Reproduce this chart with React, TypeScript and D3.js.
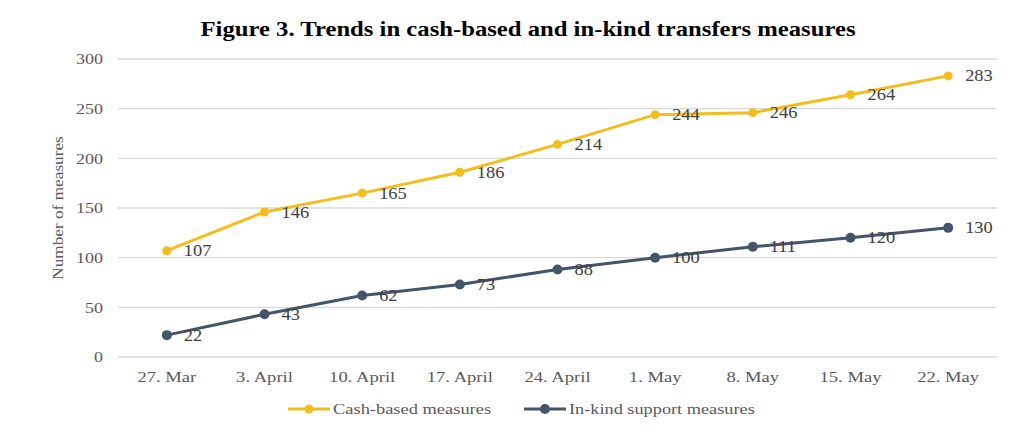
import React from "react";
import * as d3 from "d3";

const categories = ["27. Mar", "3. April", "10. April", "17. April", "24. April", "1. May", "8. May", "15. May", "22. May"];
const cashValues = [107, 146, 165, 186, 214, 244, 246, 264, 283];
const inKindValues = [22, 43, 62, 73, 88, 100, 111, 120, 130];
const yTicks = [0, 50, 100, 150, 200, 250, 300];
const seriesNames = ["Cash-based measures", "In-kind support measures"];

const W = 1024, H = 435;
const left = 118, right = 997, top = 59, bottom = 357;
const CASH = "#F2BD1D";
const KIND = "#44546A";
const FONT = "'Liberation Serif', 'Times New Roman', serif";

function SText(props: { x: number; y: number; sx?: number; rotate?: number; anchor?: string; size: number; fill: string; children: React.ReactNode }) {
  const { x, y, sx = 1.2, rotate = 0, anchor = "start", size, fill, children } = props;
  return (
    <text transform={`translate(${x},${y}) rotate(${rotate}) scale(${sx},1)`} textAnchor={anchor} dy="0.35em" fontSize={size} fill={fill}>
      {children}
    </text>
  );
}

export default function App() {
  const x = d3.scaleBand<string>().domain(categories).range([left, right]);
  const y = d3.scaleLinear().domain([0, 300]).range([bottom, top]);
  const cx = (c: string) => (x(c) as number) + x.bandwidth() / 2;
  const line = d3.line<number>().x((_, i) => cx(categories[i])).y((d) => y(d));

  const series = [
    { name: seriesNames[0], values: cashValues, color: CASH, r: 4.5 },
    { name: seriesNames[1], values: inKindValues, color: KIND, r: 5 },
  ];

  return (
    <svg width={W} height={H} style={{ position: "absolute", left: 0, top: 0, background: "#fff" }} fontFamily={FONT}>
      <text x={528} y={36} textAnchor="middle" fontWeight="bold" fontSize={21} fill="#000" textLength={655} lengthAdjust="spacingAndGlyphs">
        Figure 3. Trends in cash-based and in-kind transfers measures
      </text>
      {yTicks.map((t) => (
        <g key={t}>
          <line x1={left} x2={right} y1={y(t)} y2={y(t)} stroke="#d9d9d9" strokeWidth={1.3} />
          <SText x={103} y={y(t)} anchor="end" size={15} fill="#595959">{t}</SText>
        </g>
      ))}
      <SText x={58} y={208} rotate={-90} sx={1.15} anchor="middle" size={15} fill="#595959">Number of measures</SText>
      {categories.map((c) => (
        <SText key={c} x={cx(c)} y={377} anchor="middle" size={15.5} fill="#595959">{c}</SText>
      ))}
      {series.map((s) => (
        <g key={s.name}>
          <path d={line(s.values) as string} fill="none" stroke={s.color} strokeWidth={3} />
          {s.values.map((v, i) => (
            <circle key={i} cx={cx(categories[i])} cy={y(v)} r={s.r} fill={s.color} />
          ))}
          {s.values.map((v, i) => (
            <SText key={"l" + i} x={cx(categories[i]) + 17} y={y(v)} sx={1.15} size={16} fill="#404040">{v}</SText>
          ))}
        </g>
      ))}
      <g>
        <line x1={288} x2={330} y1={409} y2={409} stroke={CASH} strokeWidth={3} />
        <circle cx={309} cy={409} r={4.5} fill={CASH} />
        <SText x={333} y={409} sx={1.19} size={15.5} fill="#595959">{seriesNames[0]}</SText>
        <line x1={524} x2={566} y1={409} y2={409} stroke={KIND} strokeWidth={3} />
        <circle cx={545} cy={409} r={5} fill={KIND} />
        <SText x={569} y={409} sx={1.18} size={15.5} fill="#595959">{seriesNames[1]}</SText>
      </g>
    </svg>
  );
}
